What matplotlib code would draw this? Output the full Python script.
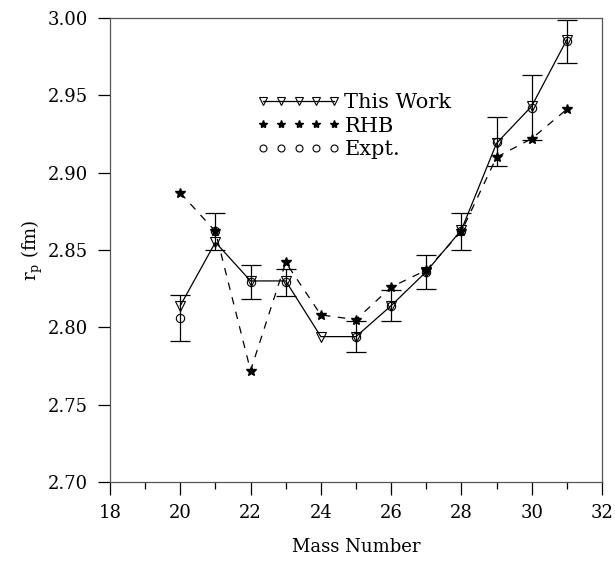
import matplotlib
matplotlib.use("Agg")
import matplotlib.pyplot as plt
from matplotlib.ticker import MultipleLocator

mass = [20, 21, 22, 23, 24, 25, 26, 27, 28, 29, 30, 31]
this_work = [2.814, 2.855, 2.830, 2.830, 2.794, 2.794, 2.814, 2.836, 2.863, 2.919, 2.943, 2.986]
rhb = [2.887, 2.862, 2.772, 2.842, 2.808, 2.805, 2.826, 2.837, 2.862, 2.910, 2.922, 2.941]
expt_mass = [20, 21, 22, 23, 25, 26, 27, 28, 29, 30, 31]
expt = [2.806, 2.862, 2.829, 2.829, 2.794, 2.814, 2.836, 2.862, 2.920, 2.942, 2.985]
expt_err = [0.015, 0.012, 0.011, 0.009, 0.010, 0.010, 0.011, 0.012, 0.016, 0.021, 0.014]

plt.rcParams['font.family'] = ['DejaVu Serif']
plt.rcParams['mathtext.fontset'] = 'dejavuserif'

fig = plt.figure(figsize=(6.15, 5.63), dpi=100)
ax = fig.add_axes([110/615, 81/563, 492/615, 464/563])

ax.errorbar(expt_mass, expt, yerr=expt_err, fmt='none', ecolor='black',
            elinewidth=0.9, capsize=7, capthick=0.9, zorder=2)
ax.plot(mass, rhb, linestyle=(0, (6, 6)), color='black', linewidth=0.9,
        marker='*', markersize=7, markerfacecolor='black', markeredgecolor='black',
        zorder=3)
ax.plot(mass, this_work, linestyle='-', color='black', linewidth=0.9,
        marker='v', markersize=7, markerfacecolor='none', markeredgecolor='black',
        markeredgewidth=0.8, zorder=4)
ax.plot(expt_mass, expt, linestyle='none', marker='o', markersize=6,
        markerfacecolor='none', markeredgecolor='black', markeredgewidth=0.8, zorder=4)

# legend
from matplotlib.lines import Line2D
h1 = Line2D([], [], linestyle='-', color='black', linewidth=0.9, marker='v',
            markersize=6, markerfacecolor='none', markeredgecolor='black', markeredgewidth=0.8)
h2 = Line2D([], [], linestyle='none', marker='*', markersize=6,
            markerfacecolor='black', markeredgecolor='black')
h3 = Line2D([], [], linestyle='none', marker='o', markersize=5,
            markerfacecolor='none', markeredgecolor='black', markeredgewidth=0.8)
leg = ax.legend([h1, h2, h3], ['This Work', 'RHB', 'Expt.'], numpoints=5,
                handlelength=4.0, handletextpad=0.2, labelspacing=0.22,
                frameon=False, fontsize=15, loc='upper left',
                bbox_to_anchor=(257/615, (563-93)/563), bbox_transform=fig.transFigure,
                borderaxespad=0, borderpad=0)

ax.set_xlim(18, 32)
ax.set_ylim(2.70, 3.00)
ax.xaxis.set_major_locator(MultipleLocator(2))
ax.xaxis.set_minor_locator(MultipleLocator(1))
ax.yaxis.set_major_locator(MultipleLocator(0.05))
ax.yaxis.set_major_formatter(matplotlib.ticker.FormatStrFormatter('%.2f'))
ax.tick_params(axis='both', which='major', direction='out', length=9, width=0.9,
               labelsize=13, pad=7)
ax.tick_params(axis='x', which='minor', direction='out', length=5, width=0.9)
for s in ax.spines.values():
    s.set_linewidth(0.9)
    s.set_color('#555555')

ax.set_xlabel('Mass Number', fontsize=13, labelpad=11)
ax.set_ylabel(r'r$_\mathrm{p}$ (fm)', fontsize=13, labelpad=2)

fig.savefig('out.png', dpi=100)
